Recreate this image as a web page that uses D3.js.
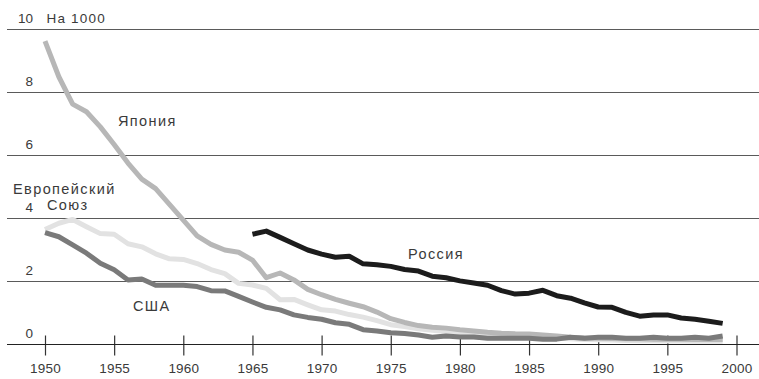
<!DOCTYPE html>
<html><head><meta charset="utf-8">
<script src="https://cdn.jsdelivr.net/npm/d3@7"></script>
<style>
html,body{margin:0;padding:0;background:#fff;}
svg{display:block;font-family:"Liberation Sans",Arial,Helvetica,sans-serif;}
</style></head>
<body><svg id="c" width="759" height="379"></svg>
<script>
const years = [1950,1951,1952,1953,1954,1955,1956,1957,1958,1959,
  1960,1961,1962,1963,1964,1965,1966,1967,1968,1969,
  1970,1971,1972,1973,1974,1975,1976,1977,1978,1979,
  1980,1981,1982,1983,1984,1985,1986,1987,1988,1989,
  1990,1991,1992,1993,1994,1995,1996,1997,1998,1999];
const eu = [3.65,3.85,3.97,3.74,3.52,3.5,3.2,3.1,2.88,2.72,
  2.7,2.57,2.38,2.25,1.94,1.89,1.78,1.42,1.43,1.26,
  1.1,1.06,0.95,0.87,0.76,0.63,0.57,0.5,0.45,0.41,
  0.38,0.36,0.33,0.3,0.28,0.26,0.22,0.2,0.18,0.16,
  0.15,0.14,0.13,0.12,0.12,0.11,0.11,0.1,0.1,0.1];
const japan = [9.63,8.5,7.63,7.39,6.91,6.35,5.76,5.25,4.95,4.45,
  3.95,3.45,3.18,3.0,2.93,2.68,2.12,2.27,2.05,1.75,
  1.58,1.43,1.31,1.2,1.03,0.82,0.7,0.6,0.55,0.52,
  0.47,0.43,0.39,0.36,0.34,0.33,0.3,0.27,0.23,0.21,
  0.2,0.19,0.18,0.18,0.17,0.17,0.17,0.16,0.16,0.16];
const usa = [3.55,3.42,3.16,2.9,2.58,2.37,2.05,2.08,1.88,1.88,
  1.88,1.84,1.71,1.7,1.53,1.35,1.18,1.1,0.94,0.86,
  0.8,0.69,0.64,0.47,0.43,0.37,0.35,0.3,0.23,0.27,
  0.24,0.24,0.2,0.2,0.2,0.2,0.17,0.17,0.23,0.2,
  0.23,0.23,0.2,0.2,0.23,0.2,0.2,0.23,0.2,0.27];
const russia = [null,null,null,null,null,null,null,null,null,null,
  null,null,null,null,null,3.5,3.6,3.4,3.2,3.0,
  2.87,2.77,2.8,2.56,2.53,2.48,2.38,2.33,2.17,2.12,
  2.02,1.95,1.88,1.71,1.6,1.63,1.72,1.55,1.47,1.32,
  1.19,1.18,1.02,0.9,0.94,0.94,0.84,0.8,0.74,0.67];
const yTicks = [0,2,4,6,8,10];
const xTicks = [1950,1955,1960,1965,1970,1975,1980,1985,1990,1995,2000];
const unitLabel = "На 1000";

const svg = d3.select("#c");
const x = d3.scaleLinear().domain([1950,2000]).range([45,736.5]);
const y = d3.scaleLinear().domain([0,10]).range([344.5,29.5]);
const txt = "#3a3a3a";

// grid lines
svg.append("g").selectAll("line").data(yTicks.filter(d=>d>0)).join("line")
  .attr("x1",7).attr("x2",759)
  .attr("y1",d=>y(d)).attr("y2",d=>y(d))
  .attr("stroke","#5a5a5a").attr("stroke-width",1);

// y labels
svg.append("g").selectAll("text").data(yTicks).join("text")
  .attr("x",33).attr("y",d=>y(d)-7)
  .attr("text-anchor","end").attr("font-size",13.5).attr("fill",txt)
  .text(d=>d);
svg.append("text").attr("x",46.5).attr("y",y(10)-7)
  .attr("font-size",13.5).attr("fill",txt).attr("letter-spacing",1.2).text(unitLabel);

// x axis
const xa = svg.append("g").attr("transform",`translate(0,${y(0)})`)
  .call(d3.axisBottom(x).tickValues(xTicks).tickFormat(d3.format("d")).tickSize(11).tickPadding(8));
xa.select(".domain").remove();
svg.append("line").attr("x1",7).attr("x2",759).attr("y1",y(0)).attr("y2",y(0))
  .attr("stroke","#222").attr("stroke-width",1.2);
xa.selectAll(".tick line").attr("stroke","#333").attr("stroke-width",1.2).attr("y1",-9);
xa.selectAll(".tick text").attr("font-size",13.5).attr("fill",txt)
  .attr("font-family","Liberation Sans, Arial, sans-serif").attr("letter-spacing",0.2);

const line = d3.line().defined(d=>d[1]!=null).x(d=>x(d[0])).y(d=>y(d[1]));
const series = [
  {v:eu, c:"#e2e2e2"},
  {v:japan, c:"#b7b7b7"},
  {v:usa, c:"#7a7a7a"},
  {v:russia, c:"#1c1c1c"}
];
svg.append("g").selectAll("path").data(series).join("path")
  .attr("d",s=>line(years.map((yr,i)=>[yr,s.v[i]])))
  .attr("fill","none").attr("stroke",s=>s.c).attr("stroke-width",5)
  .attr("stroke-linejoin","round");

// series labels
const lbl = (t,xp,yp)=>svg.append("text").attr("x",xp).attr("y",yp)
  .attr("font-size",14.5).attr("fill",txt).attr("letter-spacing",1.4).text(t);
lbl("Япония",118,126);
const euT = svg.append("text").attr("font-size",14.5).attr("fill",txt).attr("letter-spacing",1.4);
euT.append("tspan").attr("x",13).attr("y",194).text("Европейский");
euT.append("tspan").attr("x",47).attr("y",210).text("Союз");
lbl("Россия",408,259);
lbl("США",133,311);
</script></body></html>
